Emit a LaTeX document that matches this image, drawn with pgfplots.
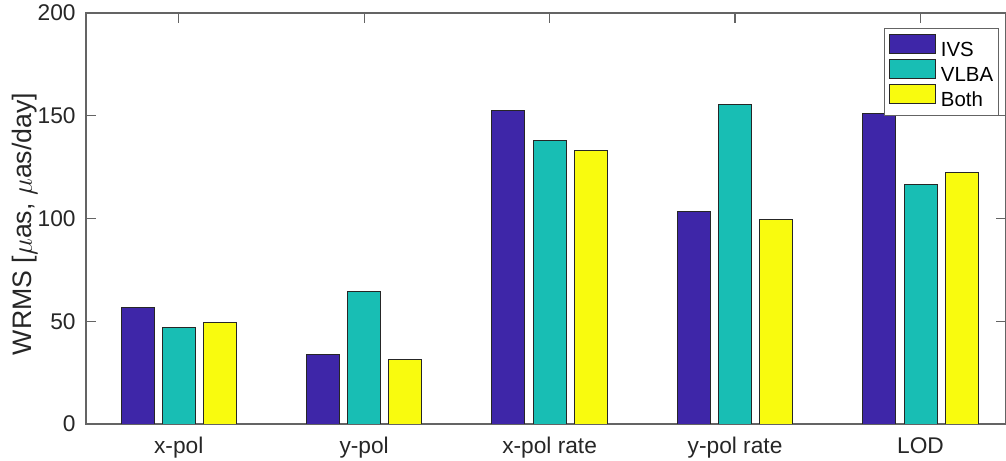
\documentclass[border=0pt]{standalone}
\usepackage{fontspec}
\setmainfont{Liberation Sans}
\usepackage{pgfplots}
\pgfplotsset{compat=1.18}
\usetikzlibrary{calc}

% parula-like series colours
\definecolor{ivscol}{RGB}{62,38,168}
\definecolor{vlbacol}{RGB}{24,190,180}
\definecolor{bothcol}{RGB}{249,251,14}
\definecolor{axcol}{RGB}{100,100,100}
\definecolor{txtcol}{RGB}{38,38,38}

\pgfplotsset{
  barkey/.style={
    fill=#1, draw=black!85, line width=0.5bp,
    legend image code/.code={\draw[##1] (0bp,-1.1bp) rectangle (23bp,8.4bp);}
  }
}

\begin{document}
\begin{tikzpicture}
\begin{axis}[
  name=ax,
  scale only axis,
  width=460bp, height=205.5bp,
  xmin=0.5, xmax=5.461,
  ymin=0, ymax=200,
  enlargelimits=false,
  ybar,
  bar width=0.1778,
  axis line style={axcol, line width=0.6bp},
  every tick/.style={axcol, line width=0.6bp},
  tick align=inside,
  tick pos=both,
  major tick length=5bp,
  xtick={1,2,3,4,5},
  xticklabels={x-pol,y-pol,x-pol rate,y-pol rate,LOD},
  ytick={0,50,100,150,200},
  /pgf/number format/assume math mode=true,
  tick label style={font=\fontsize{11.4}{13}\selectfont, text=txtcol},
  xticklabel style={anchor=base, inner sep=0pt, yshift=-14.5bp},
  yticklabel style={anchor=east, inner sep=0pt, xshift=-5bp},
  ylabel={WRMS [$\mu$as, $\mu$as/day]},
  ylabel style={at={(rel axis cs:-0.0587,0.4866)}, anchor=base, rotate=0,
    font=\fontsize{13.4}{15}\selectfont, text=txtcol, inner sep=0pt},
  legend style={
    at={(rel axis cs:0.9921,0.9642)}, anchor=north east,
    draw=axcol, line width=0.6bp, fill=white,
    inner xsep=2.5bp, inner ysep=2.8bp,
    row sep=-0.5bp, column sep=2.35bp,
    nodes={inner sep=0pt, font=\fontsize{10.25}{12}\selectfont, text=black},
  },
  legend cell align=left,
]
\addplot[barkey=ivscol, bar shift=-0.2222] coordinates
  {(1,56.9) (2,33.9) (3,152.6) (4,103.3) (5,150.9)};
\addplot[barkey=vlbacol, bar shift=0] coordinates
  {(1,47.2) (2,64.4) (3,138.0) (4,155.6) (5,116.6)};
\addplot[barkey=bothcol, bar shift=0.2222] coordinates
  {(1,49.3) (2,31.3) (3,133.0) (4,99.4) (5,122.5)};
\legend{IVS,VLBA,Both}
\end{axis}
\pgfresetboundingbox
\path[use as bounding box] ($(ax.south west)+(-43bp,-18.5bp)$) rectangle ($(ax.north east)+(0bp,6.5bp)$);
\end{tikzpicture}
\end{document}
